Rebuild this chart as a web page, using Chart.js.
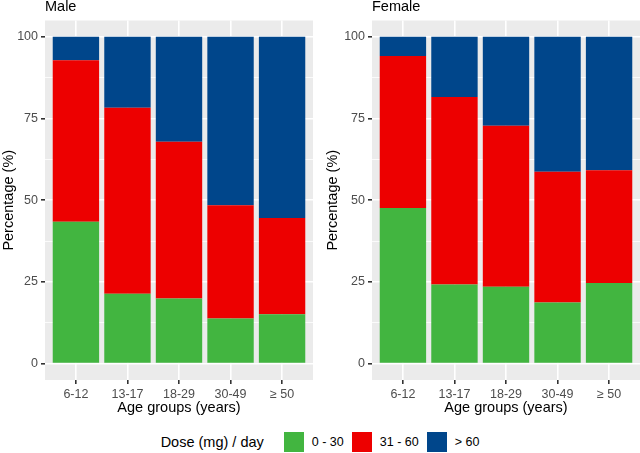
<!DOCTYPE html>
<html>
<head>
<meta charset="utf-8">
<script src="https://cdn.jsdelivr.net/npm/chart.js@4"></script>
<style>
  body { margin: 0; width: 640px; height: 453px; background: #fff; position: relative; overflow: hidden;
         font-family: "Liberation Sans", Arial, sans-serif; }
  .panel { position: absolute; top: 0; width: 320px; height: 425px; }
  #legend { position: absolute; left: 0; top: 431px; width: 640px; height: 21px;
            display: flex; justify-content: center; align-items: center; color: #000; }
  .ltitle { font-size: 14.5px; margin-right: 20px; }
  .sw { width: 20px; height: 20px; margin-right: 8px; }
  .lt { font-size: 12.5px; margin-right: 8px; color: #000; }
  .lt:last-child { margin-right: 0; }
</style>
</head>
<body>
<div class="panel" style="left:0"><canvas id="male" width="320" height="425"></canvas></div>
<div class="panel" style="left:320px"><canvas id="female" width="320" height="425"></canvas></div>
<div id="legend"></div>

<script>
const AGE_GROUPS = ['6-12', '13-17', '18-29', '30-49', '≥ 50'];
const DOSE_LABELS = ['0 - 30', '31 - 60', '> 60'];
const DOSE_COLORS = ['#42B540', '#ED0000', '#00468B'];
const Y_TICKS = [0, 25, 50, 75, 100];

// percentage of each dose group, per age group
const MALE_LOW = [43.4, 21.4, 19.9, 13.8, 15.1];
const MALE_MID = [49.4, 56.9, 48.0, 34.7, 29.5];
const MALE_HIGH = [7.2, 21.7, 32.1, 51.5, 55.4];

const FEMALE_LOW = [47.6, 24.2, 23.5, 18.7, 24.7];
const FEMALE_MID = [46.5, 57.4, 49.3, 40.0, 34.5];
const FEMALE_HIGH = [5.9, 18.4, 27.2, 41.3, 40.8];

Chart.defaults.font.family = '"Liberation Sans", Arial, sans-serif';
Chart.defaults.color = '#4D4D4D';

// grey ggplot panel
const panelBg = {
    id: 'panelBg',
    beforeDraw(chart) {
        const a = chart.chartArea;
        const ctx = chart.ctx;
        ctx.save();
        ctx.fillStyle = '#EBEBEB';
        ctx.fillRect(a.left, a.top, a.right - a.left, a.bottom - a.top);
        ctx.restore();
    }
};

function isMajor(v) {
    return Y_TICKS.indexOf(v) !== -1;
}

function makeChart(id, title, series, yWidth, yTitlePad, padRight) {
    const datasets = series.map(function (values, i) {
        return {
            label: DOSE_LABELS[i],
            data: values.map(function (v, j) { return { x: j + 1, y: v }; }),
            backgroundColor: DOSE_COLORS[i],
            borderWidth: 0,
            categoryPercentage: 1,
            barPercentage: 0.9
        };
    });

    return new Chart(document.getElementById(id), {
        type: 'bar',
        data: { datasets: datasets },
        plugins: [panelBg],
        options: {
            responsive: false,
            animation: false,
            layout: { padding: { left: 0, right: padRight, top: 0, bottom: 0 } },
            plugins: {
                legend: { display: false },
                tooltip: { enabled: false },
                title: {
                    display: true,
                    text: title,
                    align: 'start',
                    fullSize: false,
                    color: '#000',
                    font: { size: 14.5, weight: 'normal', lineHeight: 1 },
                    padding: { top: 0, bottom: 6 }
                }
            },
            scales: {
                x: {
                    type: 'linear',
                    stacked: true,
                    offset: false,
                    min: 0.4,
                    max: 5.6,
                    afterBuildTicks: function (scale) {
                        scale.ticks = AGE_GROUPS.map(function (g, i) { return { value: i + 1 }; });
                    },
                    afterFit: function (scale) { scale.height = 45; },
                    ticks: {
                        autoSkip: false,
                        maxRotation: 0,
                        padding: 3,
                        color: '#4D4D4D',
                        font: { size: 12.5 },
                        callback: function (v) { return AGE_GROUPS[v - 1]; }
                    },
                    grid: {
                        offset: false,
                        color: '#FFFFFF',
                        lineWidth: 1.6,
                        tickColor: '#333333',
                        tickLength: 4
                    },
                    border: { display: false },
                    title: {
                        display: true,
                        text: 'Age groups (years)',
                        color: '#000',
                        font: { size: 14.5 },
                        padding: { top: 0, bottom: 8 }
                    }
                },
                y: {
                    stacked: true,
                    min: -5,
                    max: 105,
                    afterBuildTicks: function (scale) {
                        const t = [];
                        Y_TICKS.forEach(function (v, i) {
                            t.push({ value: v });
                            if (i < Y_TICKS.length - 1) t.push({ value: (v + Y_TICKS[i + 1]) / 2 });
                        });
                        scale.ticks = t;
                    },
                    afterFit: function (scale) { scale.width = yWidth; },
                    ticks: {
                        padding: 3,
                        color: '#4D4D4D',
                        font: { size: 12.5 },
                        callback: function (v) { return isMajor(v) ? String(v) : ''; }
                    },
                    grid: {
                        color: '#FFFFFF',
                        lineWidth: function (ctx) { return ctx.tick && isMajor(ctx.tick.value) ? 1.6 : 0.8; },
                        tickColor: function (ctx) { return ctx.tick && isMajor(ctx.tick.value) ? '#333333' : 'rgba(0,0,0,0)'; },
                        tickLength: 4
                    },
                    border: { display: false },
                    title: {
                        display: true,
                        text: 'Percentage (%)',
                        color: '#000',
                        font: { size: 14.5 },
                        padding: { top: yTitlePad, bottom: 0 }
                    }
                }
            }
        }
    });
}

makeChart('male', 'Male', [MALE_LOW, MALE_MID, MALE_HIGH], 45, 0, 7);
makeChart('female', 'Female', [FEMALE_LOW, FEMALE_MID, FEMALE_HIGH], 52, 4, 0);

// shared legend under both panels
const legend = document.getElementById('legend');
const lt = document.createElement('span');
lt.className = 'ltitle';
lt.textContent = 'Dose (mg) / day';
legend.appendChild(lt);
DOSE_LABELS.forEach(function (label, i) {
    const sw = document.createElement('span');
    sw.className = 'sw';
    sw.style.background = DOSE_COLORS[i];
    legend.appendChild(sw);
    const tx = document.createElement('span');
    tx.className = 'lt';
    tx.textContent = label;
    legend.appendChild(tx);
});
</script>
</body>
</html>
